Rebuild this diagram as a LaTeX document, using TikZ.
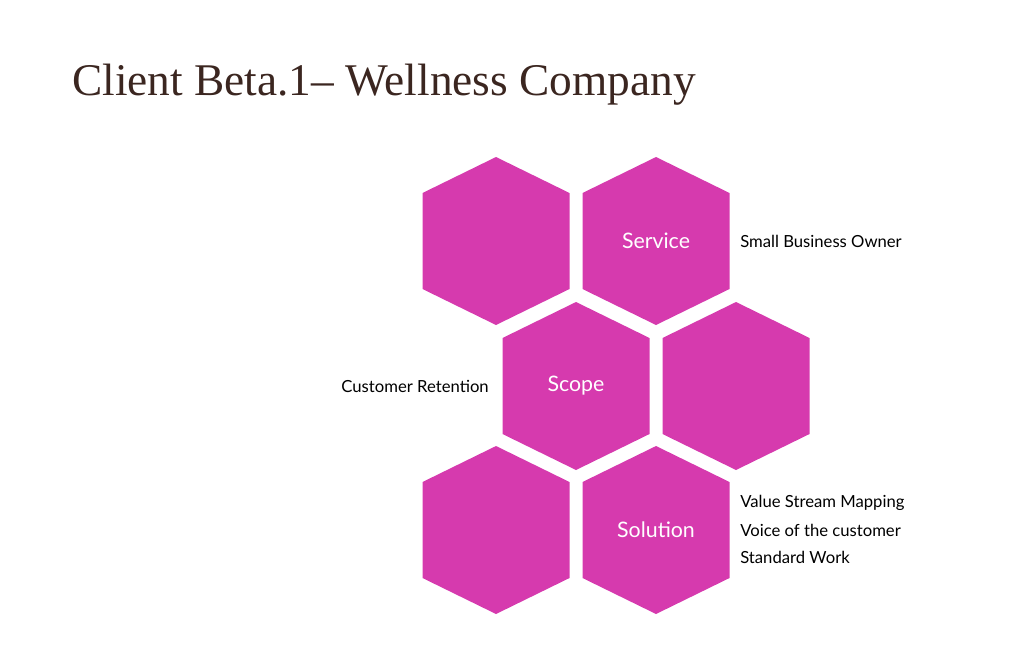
\documentclass[tikz,border=0pt]{standalone}
\usepackage{fontspec}
\setmainfont{Liberation Serif}
\newfontfamily\lab{Lato}
\definecolor{hexc}{HTML}{D63AAE}
\definecolor{titc}{HTML}{3B2620}
\tikzset{hexs/.style={fill=hexc,draw=none},
 hl/.style={font=\lab\fontsize{16}{16}\selectfont,text=white},
 side/.style={font=\lab\fontsize{12.5}{13}\selectfont,text=black,inner sep=0pt}}
\newcommand{\hexat}[3]{\fill[hexs] (#1,#2-84) -- (#1+73.5,#2-48) -- (#1+73.5,#2+48) -- (#1,#2+84) -- (#1-73.5,#2+48) -- (#1-73.5,#2-48) -- cycle;
 \node[hl] (#3) at (#1,#2) {};}
\begin{document}
\begin{tikzpicture}[x=0.75pt,y=-0.75pt]
\useasboundingbox (0,0) rectangle (1012,668);
\node[anchor=base west,inner sep=0pt,text=titc,font=\fontsize{34}{36}\selectfont] (title) at (72,95) {Client Beta.1– Wellness Company};
\hexat{496}{241}{h1}
\hexat{656}{241}{h2}
\hexat{576}{386}{h3}
\hexat{736}{386}{h4}
\hexat{496}{530}{h5}
\hexat{656}{530}{h6}
\node[hl] (service) at (h2) {Service};
\node[hl] (scope) at (h3) {Scope};
\node[hl] (solution) at (h6) {Solution};
\node[side,anchor=west] (sbo) at (740,241) {Small Business Owner};
\node[side,anchor=east] (cr) at (489,386) {Customer Retention};
\node[side,anchor=west] (v1) at (740,503) {Value Stream Mapping};
\node[side,anchor=west] (v2) at (740,530) {Voice of the customer};
\node[side,anchor=west] (v3) at (740,557) {Standard Work};
\end{tikzpicture}
\end{document}
